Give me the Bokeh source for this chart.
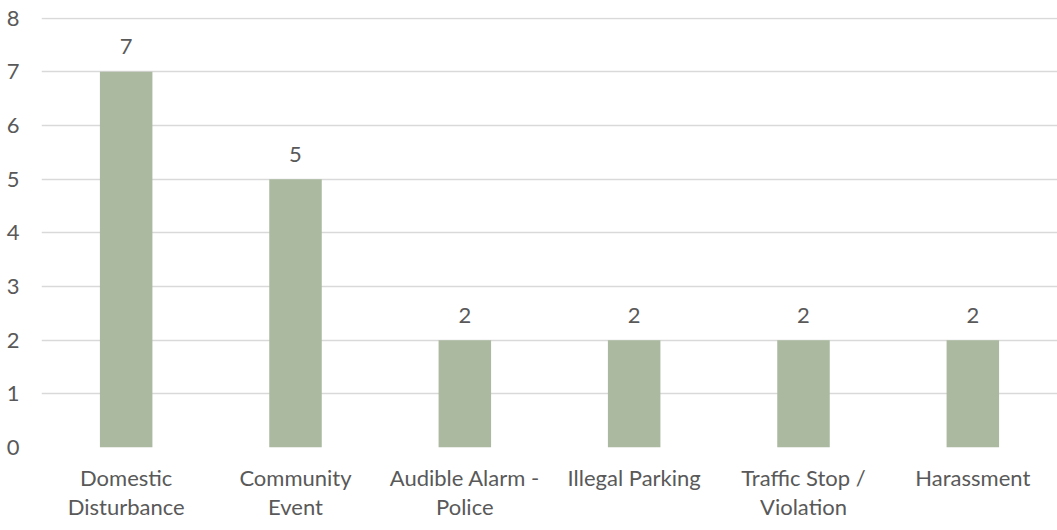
from bokeh.plotting import figure
from bokeh.models import ColumnDataSource, Range1d, FixedTicker
from bokeh.core.properties import value
from bokeh.embed import file_html
from bokeh.resources import INLINE

categories = ["Domestic\nDisturbance", "Community\nEvent", "Audible Alarm -\nPolice",
              "Illegal Parking", "Traffic Stop /\nViolation", "Harassment"]
counts = [7, 5, 2, 2, 2, 2]
y_ticks = [0, 1, 2, 3, 4, 5, 6, 7, 8]

FONT = "Lato"
TXT = "#595959"

src = ColumnDataSource(dict(cat=categories, val=counts, lbl=[str(v) for v in counts]))

p = figure(x_range=categories, y_range=Range1d(0, 8.012), width=1057, height=530,
           output_backend="svg", toolbar_location=None,
           min_border_left=41, min_border_right=0, min_border_top=17, min_border_bottom=83)
p.outline_line_color = None

p.vbar(x="cat", top="val", width=0.31, source=src, fill_color="#AAB99F", line_color=None)
p.text(x="cat", y="val", text="lbl", source=src, text_align="center",
       text_baseline="alphabetic", y_offset=-25, text_font=value(FONT),
       text_font_size="22px", text_color=TXT)

p.xgrid.grid_line_color = None
p.ygrid.grid_line_color = "#D9D9D9"
p.ygrid.grid_line_width = 1.3
p.yaxis.ticker = FixedTicker(ticks=y_ticks)

for ax in (p.xaxis[0], p.yaxis[0]):
    ax.axis_line_color = None
    ax.major_tick_line_color = None
    ax.minor_tick_line_color = None
    ax.major_label_text_font = FONT
    ax.major_label_text_font_size = "22px"
    ax.major_label_text_color = TXT

p.xaxis.major_label_text_line_height = 1.1
p.xaxis.major_label_standoff = 10
p.yaxis.major_label_standoff = 16

open("out.html", "w").write(file_html(p, INLINE))
